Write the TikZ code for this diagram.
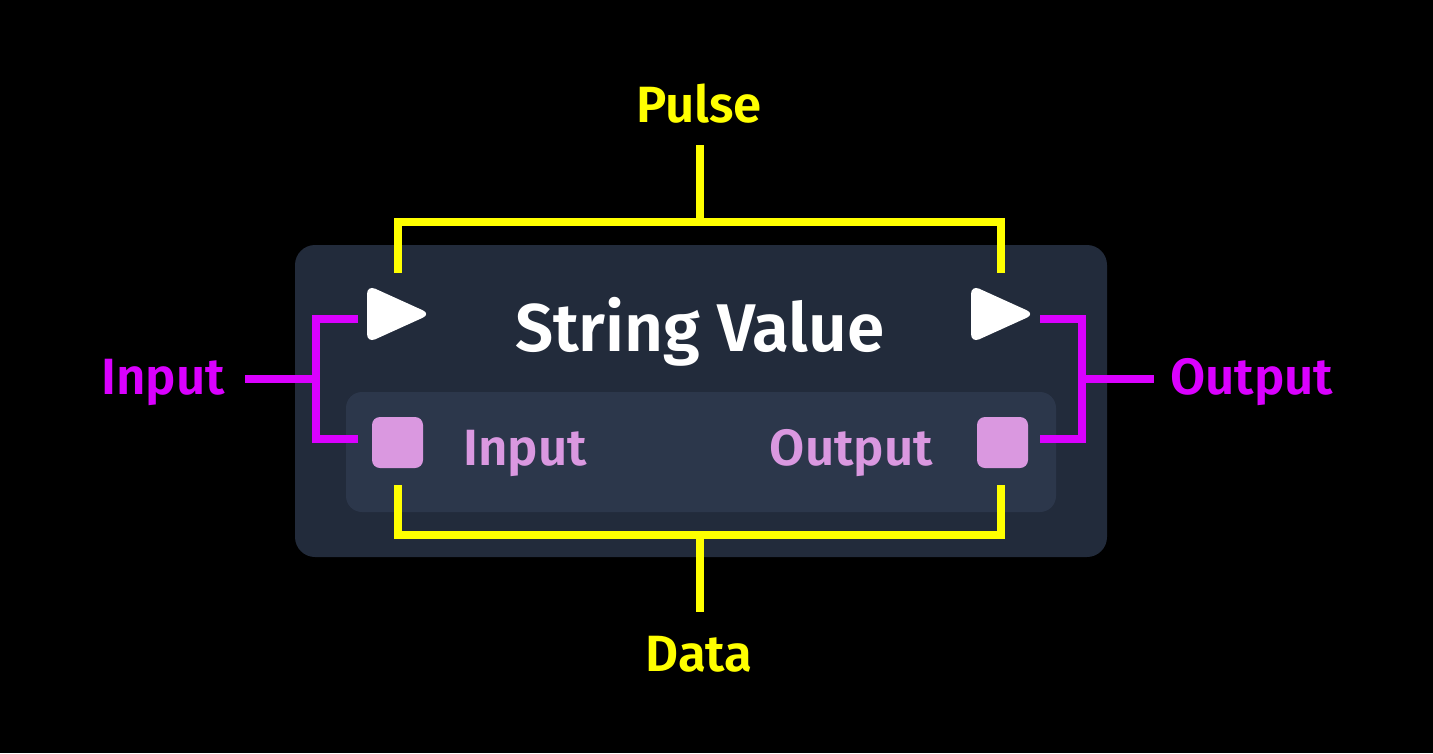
\documentclass[tikz,border=0pt]{standalone}
\usepackage{fontspec}
\setmainfont{Fira Sans}[BoldFont={Fira Sans SemiBold}]
\definecolor{outerbox}{HTML}{222B3B}
\definecolor{innerbox}{HTML}{2C374B}
\definecolor{pulseY}{HTML}{FFFF00}
\definecolor{dataM}{HTML}{DA00FF}
\definecolor{pinkport}{HTML}{DA98E0}
\tikzset{
  yline/.style={draw=pulseY, line width=8pt, line join=miter},
  mline/.style={draw=dataM, line width=8pt, line join=miter},
  outlbl/.style={font=\bfseries\fontsize{51}{51}\selectfont, inner sep=0pt, anchor=base},
  datalbl/.style={font=\bfseries\fontsize{51}{51}\selectfont, inner sep=0pt, text=pinkport},
  port/.style={fill=pinkport, rounded corners=8pt},
  tri/.style={fill=white, rounded corners=9pt},
}
\begin{document}
\begin{tikzpicture}[x=1pt,y=-1pt]
\fill[black] (0,0) rectangle (1433,753);
\useasboundingbox (0,0) rectangle (1433,753);
% boxes
\fill[outerbox, rounded corners=20pt] (295,245) rectangle (1107,557);
\node[inner sep=0pt, minimum width=812pt, minimum height=312pt] (box) at (701,401) {};
\fill[innerbox, rounded corners=16pt] (346,392) rectangle (1056,512);
% pulse triangles
\fill[tri] (367,285) -- (431,314) -- (367,343) -- cycle;
\fill[tri] (971,285) -- (1035,314) -- (971,343) -- cycle;
\node[inner sep=0pt, minimum size=52pt] (pin) at (397,314) {};
\node[inner sep=0pt, minimum size=52pt] (pout) at (1001,314) {};
% data ports
\fill[port] (372,417) rectangle (423,468);
\fill[port] (977,417) rectangle (1028,468);
\node[inner sep=0pt, minimum size=51pt] (din) at (397.5,442.5) {};
\node[inner sep=0pt, minimum size=51pt] (dout) at (1002.5,442.5) {};
% title and port labels
\node[font=\bfseries\fontsize{67.5}{67.5}\selectfont, text=white, inner sep=0pt, anchor=base] (title) at (700,351) {String Value};
\node[datalbl, anchor=base west] (inlbl) at (463,465) {Input};
\node[datalbl, anchor=base east] (outlbl) at (933,465) {Output};
% outside labels
\node[outlbl, text=pulseY] (pulse) at (699,122) {Pulse};
\node[outlbl, text=pulseY] (data) at (699,671) {Data};
\node[outlbl, text=dataM, anchor=base east] (inputL) at (225,394) {Input};
\node[outlbl, text=dataM, anchor=base west] (outputR) at (1170,394) {Output};
% coordinates for connectors
\coordinate (pulseEnd) at (700,145);
\coordinate (pulseMid) at (700,222);
\coordinate (dataEnd) at (700,612);
\coordinate (dataMid) at (700,535);
\coordinate (inEnd) at (245,379);
\coordinate (inMid) at (316,379);
\coordinate (outEnd) at (1154,379);
\coordinate (outMid) at (1082,379);
% pulse bracket
\draw[yline] (398,273) -- (398,222) -- (1001,222) -- (1001,273);
\draw[yline] (pulseMid) -- (pulseEnd);
% data bracket
\draw[yline] (398,485) -- (398,535) -- (1001,535) -- (1001,485);
\draw[yline] (dataMid) -- (dataEnd);
% input bracket
\draw[mline] (358,319) -- (316,319) -- (316,439) -- (358,439);
\draw[mline] (inEnd) -- (inMid);
% output bracket
\draw[mline] (1040,319) -- (1082,319) -- (1082,439) -- (1040,439);
\draw[mline] (outMid) -- (outEnd);
\end{tikzpicture}
\end{document}
